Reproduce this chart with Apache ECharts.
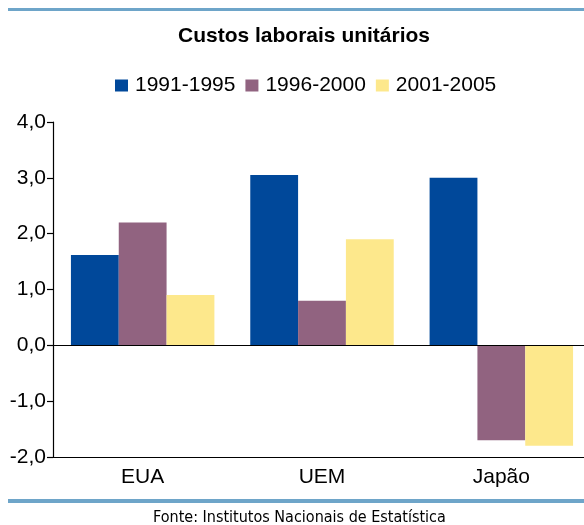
<!DOCTYPE html>
<html>
<head>
<meta charset="utf-8">
<script src="https://cdn.jsdelivr.net/npm/echarts@6/dist/echarts.min.js"></script>
<style>
  html, body { margin: 0; padding: 0; background: #ffffff; }
  #chart { width: 584px; height: 525px; }
</style>
</head>
<body>
<div id="chart"></div>
<script>
var categories = ['EUA', 'UEM', 'Japão'];
var seriesNames = ['1991-1995', '1996-2000', '2001-2005'];
var values1991 = [1.62, 3.05, 3.0];
var values1996 = [2.2, 0.8, -1.7];
var values2001 = [0.9, 1.9, -1.8];
var yTicks = [-2, -1, 0, 1, 2, 3, 4];
var myColor = ['#00489a', '#916380', '#fde88c'];

var dom = document.getElementById('chart');
var myChart = echarts.init(dom);
var font = '"Liberation Sans", Arial, sans-serif';

function barSeries(name, data, color) {
    return {
        name: name,
        type: 'bar',
        data: data,
        barGap: '0%',
        barCategoryGap: '20%',
        itemStyle: { color: color },
        emphasis: { disabled: true }
    };
}

var series = [
    barSeries(seriesNames[0], values1991, myColor[0]),
    barSeries(seriesNames[1], values1996, myColor[1]),
    barSeries(seriesNames[2], values2001, myColor[2])
];
// line at zero
series[0].markLine = {
    silent: true,
    symbol: 'none',
    label: { show: false },
    lineStyle: { color: '#000000', width: 1.2, type: 'solid' },
    data: [{ yAxis: 0 }],
    animation: false
};

var option = {
    animation: false,
    backgroundColor: '#ffffff',
    title: [{
        text: 'Custos laborais unitários',
        left: 178,
        top: 26,
        padding: 0,
        textStyle: { fontFamily: font, fontSize: 21, fontWeight: 'bold', color: '#000000' }
    }, {
        text: 'Fonte: Institutos Nacionais de Estatística',
        left: 153,
        top: 510,
        padding: 0,
        textStyle: { fontFamily: '"DejaVu Sans Condensed", "DejaVu Sans", sans-serif', fontSize: 16, fontWeight: 'normal', color: '#000000' }
    }],
    legend: {
        top: 75,
        left: 115,
        padding: 0,
        itemWidth: 13,
        itemHeight: 12,
        itemGap: 10,
        icon: 'rect',
        selectedMode: false,
        textStyle: { fontFamily: font, fontSize: 21, color: '#000000', padding: [0, 0, 0, 2] },
        data: seriesNames
    },
    graphic: [{
        type: 'rect',
        shape: { x: 8, y: 8, width: 576, height: 3 },
        style: { fill: '#6ea5c9' }
    }, {
        type: 'rect',
        shape: { x: 8, y: 499, width: 576, height: 4 },
        style: { fill: '#6ea5c9' }
    }],
    grid: {
        left: 53,
        width: 538,
        top: 122,
        bottom: 68,
        containLabel: false,
        outerBoundsMode: 'none'
    },
    xAxis: {
        type: 'category',
        data: categories,
        axisLine: { onZero: false, lineStyle: { color: '#000000', width: 1.2 } },
        axisTick: { show: false },
        axisLabel: { fontFamily: font, fontSize: 21, color: '#000000', margin: 10 },
        splitLine: { show: false }
    },
    yAxis: {
        type: 'value',
        min: yTicks[0],
        max: yTicks[yTicks.length - 1],
        interval: 1,
        axisLine: { show: true, lineStyle: { color: '#000000', width: 1.2 } },
        axisTick: { show: true, length: 6, lineStyle: { color: '#000000', width: 1.2 } },
        axisLabel: {
            fontFamily: font,
            fontSize: 21,
            color: '#000000',
            margin: 7,
            formatter: function (v) { return v.toFixed(1).replace('.', ','); }
        },
        splitLine: { show: false }
    },
    series: series
};

if (option && typeof option === 'object') {
    myChart.setOption(option, true);
}
</script>
</body>
</html>
